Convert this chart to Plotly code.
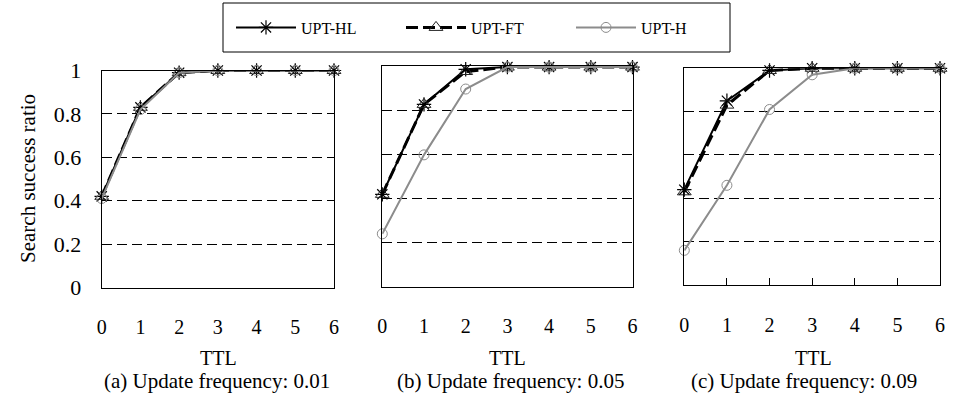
import plotly.graph_objects as go

# TTL values on the x axis
ttl = [0, 1, 2, 3, 4, 5, 6]

# Search success ratio per update frequency
hl_001 = [0.42, 0.83, 0.99, 1.0, 1.0, 1.0, 1.0]
ft_001 = [0.42, 0.83, 0.99, 1.0, 1.0, 1.0, 1.0]
h_001 = [0.41, 0.82, 0.99, 1.0, 1.0, 1.0, 1.0]

hl_005 = [0.42, 0.83, 0.99, 1.0, 1.0, 1.0, 1.0]
ft_005 = [0.42, 0.83, 0.98, 1.0, 1.0, 1.0, 1.0]
h_005 = [0.24, 0.60, 0.90, 1.0, 1.0, 1.0, 1.0]

hl_009 = [0.44, 0.85, 0.99, 1.0, 1.0, 1.0, 1.0]
ft_009 = [0.43, 0.83, 0.99, 1.0, 1.0, 1.0, 1.0]
h_009 = [0.16, 0.46, 0.81, 0.97, 1.0, 1.0, 1.0]

y_ticks = [0, 0.2, 0.4, 0.6, 0.8, 1.0]
y_tick_text = ["0", "0.2", "0.4", "0.6", "0.8", "1"]
grid_ticks = [0.2, 0.4, 0.6, 0.8]

captions = ["(a) Update frequency: 0.01",
            "(b) Update frequency: 0.05",
            "(c) Update frequency: 0.09"]

panels = [(hl_001, ft_001, h_001), (hl_005, ft_005, h_005), (hl_009, ft_009, h_009)]

FONT = "Liberation Serif, Times New Roman, serif"
GRAY = "#8c8c8c"
W, H = 964, 401

fig = go.Figure()

for i, (hl, ft, h) in enumerate(panels):
    sfx = "" if i == 0 else str(i + 1)
    show = i == 0
    fig.add_trace(go.Scatter(
        x=ttl, y=hl, name="UPT-HL", legendgroup="hl", showlegend=show,
        xaxis="x" + sfx, yaxis="y" + sfx, mode="lines+markers", cliponaxis=False,
        line=dict(color="black", width=2),
        marker=dict(symbol="asterisk-open", size=12, color="black",
                    line=dict(color="black", width=1.2))))
    fig.add_trace(go.Scatter(
        x=ttl, y=ft, name="UPT-FT", legendgroup="ft", showlegend=show,
        xaxis="x" + sfx, yaxis="y" + sfx, mode="lines+markers", cliponaxis=False,
        line=dict(color="black", width=3, dash="12px,5px"),
        marker=dict(symbol="triangle-up-open", size=12, color="#222",
                    line=dict(color="#222", width=1))))
    fig.add_trace(go.Scatter(
        x=ttl, y=h, name="UPT-H", legendgroup="h", showlegend=show,
        xaxis="x" + sfx, yaxis="y" + sfx, mode="lines+markers", cliponaxis=False,
        line=dict(color=GRAY, width=2),
        marker=dict(symbol="circle-open", size=10, color=GRAY,
                    line=dict(color=GRAY, width=1))))

# panel boxes in pixels: (left, right, top, bottom, y max)
boxes = [(101.7, 334.0, 70.5, 287.5, 1.0),
         (382.3, 632.5, 66.0, 286.5, 1.005),
         (684.3, 940.0, 68.3, 285.0, 1.0)]

layout = dict(
    width=W, height=H,
    margin=dict(l=0, r=0, t=0, b=0, autoexpand=False),
    paper_bgcolor="white", plot_bgcolor="white",
    font=dict(family=FONT, color="black", size=20),
    showlegend=True,
    legend=dict(orientation="h", x=486 / W, xanchor="center",
                y=1 - 27.5 / H, yanchor="middle",
                bgcolor="rgba(0,0,0,0)", borderwidth=0,
                font=dict(family=FONT, size=16, color="black"),
                itemwidth=60, entrywidth=95, entrywidthmode="pixels",
                itemclick=False),
    shapes=[dict(type="rect", xref="paper", yref="paper",
                 x0=223 / W, x1=730 / W, y0=1 - 52 / H, y1=1 - 3 / H,
                 line=dict(color="black", width=1), fillcolor="rgba(0,0,0,0)",
                 layer="above")],
)

for i, (l, r, t, b, ymax) in enumerate(boxes):
    sfx = "" if i == 0 else str(i + 1)
    layout["xaxis" + sfx] = dict(
        domain=[l / W, r / W], range=[0, 6], anchor="y" + sfx,
        tickvals=ttl, ticktext=[str(v) for v in ttl],
        showgrid=False, zeroline=False,
        showline=True, mirror=True, linecolor="black", linewidth=1,
        ticks="inside" if i == 2 else "", ticklen=7, tickcolor="black",
        ticklabelstandoff=21 if i < 2 else 22,
        tickfont=dict(family=FONT, size=20, color="black"),
    )
    layout["yaxis" + sfx] = dict(
        domain=[1 - b / H, 1 - t / H], range=[0, ymax], anchor="x" + sfx,
        tickvals=y_ticks if i == 0 else grid_ticks,
        ticktext=y_tick_text if i == 0 else None,
        showticklabels=(i == 0),
        showgrid=True, gridcolor="black", gridwidth=1, griddash="10px,5px",
        zeroline=False, ticks="",
        showline=True, mirror=True, linecolor="black", linewidth=1,
        ticklabelstandoff=15,
        tickfont=dict(family=FONT, size=22, color="black"),
    )

fig.update_layout(**layout)

# axis titles and panel captions
ttl_x = [218, 507, 813]
cap_x = [217, 510, 804]
for i in range(3):
    fig.add_annotation(text="TTL", xref="paper", yref="paper",
                       x=ttl_x[i] / W, y=1 - 358 / H, xanchor="center", yanchor="middle",
                       showarrow=False, font=dict(family=FONT, size=20, color="black"))
    fig.add_annotation(text=captions[i], xref="paper", yref="paper",
                       x=cap_x[i] / W, y=1 - 381 / H, xanchor="center", yanchor="middle",
                       showarrow=False, font=dict(family=FONT, size=21, color="black"))

fig.add_annotation(text="Search success ratio", xref="paper", yref="paper",
                   x=28 / W, y=1 - 179 / H, xanchor="center", yanchor="middle",
                   textangle=-90, showarrow=False,
                   font=dict(family=FONT, size=21, color="black"))

fig.write_html("out.html")
